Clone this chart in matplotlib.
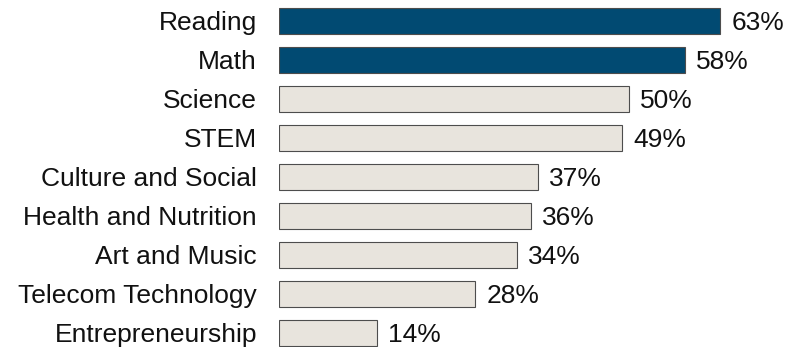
import matplotlib.pyplot as plt

SUBJECTS = ["Reading", "Math", "Science", "STEM", "Culture and Social",
            "Health and Nutrition", "Art and Music", "Telecom Technology",
            "Entrepreneurship"]
SHARES = [63, 58, 50, 49, 37, 36, 34, 28, 14]
HIGHLIGHT = ["Reading", "Math"]

DARK = "#014a72"
LIGHT = "#e8e4dd"

plt.rcParams['font.family'] = ['Liberation Sans', 'DejaVu Sans']

fig = plt.figure(figsize=(7.93, 3.47), dpi=100)
ax = fig.add_axes([0.352, 0.0, 0.648, 1.0])

ypos = list(range(len(SUBJECTS)))
colors = [DARK if s in HIGHLIGHT else LIGHT for s in SUBJECTS]
bars = ax.barh(ypos, SHARES, height=0.667, color=colors,
               edgecolor="#4d4d4d", linewidth=0.8)

for b, v in zip(bars, SHARES):
    ax.annotate(str(v) + "%", (b.get_width(), b.get_y() + b.get_height() / 2),
                xytext=(8, -1.5), textcoords="offset points",
                va="center", ha="left", fontsize=19, color="#111111")

ax.set_yticks(ypos)
ax.set_yticklabels(SUBJECTS, fontsize=19, color="#111111")
ax.tick_params(axis="y", length=0, pad=16)
ax.set_xticks([])
ax.set_xlim(0, 73.4)
ax.set_ylim(8.359, -0.538)
for s in ax.spines.values():
    s.set_visible(False)

fig.savefig("out.png", dpi=100)
